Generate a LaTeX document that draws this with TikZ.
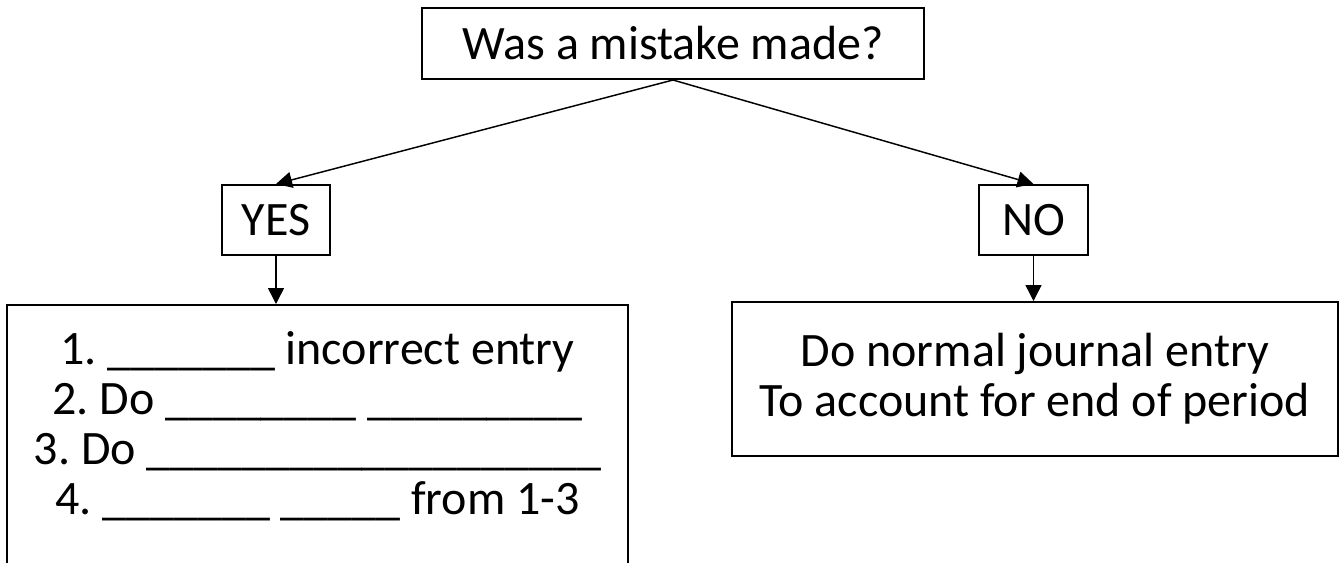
\documentclass[tikz,border=0pt]{standalone}
\usepackage{fontspec}
\setmainfont{Carlito}
\usetikzlibrary{positioning, arrows.meta}

\begin{document}
\begin{tikzpicture}[
                x=0.75pt, y=-0.75pt,
                font=\fontsize{36}{37.5}\selectfont\frenchspacing,
                box/.style={draw, line width=1.5pt, inner sep=0pt, align=center},
                arrow/.style={draw, line width=1.1pt, -{Triangle[length=12pt, width=12pt]}}
              ]

              \useasboundingbox (0,0) rectangle (1342,562);

              \node (Q) [box, minimum width=502*0.75pt, minimum height=71*0.75pt] at (673,43.5) {Was a mistake made?};
              \node (Y) [box, minimum width=108*0.75pt, minimum height=70*0.75pt] at (276,220) {YES};
              \node (N) [box, minimum width=109*0.75pt, minimum height=70*0.75pt] at (1033.5,220) {NO};
              \node (YS) [box, anchor=north, minimum width=621*0.75pt, inner ysep=20pt, text depth=250pt] at (317.5,304)
                {1. \_\_\_\_\_\_\_ incorrect entry\\
                 2. Do \_\_\_\_\_\_\_\_ \_\_\_\_\_\_\_\_\_\\
                 3. Do \_\_\_\_\_\_\_\_\_\_\_\_\_\_\_\_\_\_\_\\
                 4. \_\_\_\_\_\_\_ \_\_\_\_\_ from 1-3};
              \node (NS) [box, anchor=north, minimum width=606*0.75pt, minimum height=154*0.75pt] at (1035,301)
                {Do normal journal entry\\ To account for end of period};

              % Draw arrows
              \draw[arrow] (Q.south) -- (Y.north);
              \draw[arrow] (Q.south) -- (N.north);
              \draw[arrow] (Y.south) -- (Y.south |- YS.north);
              \draw[arrow] (N.south) -- (N.south |- NS.north);

            \end{tikzpicture}
\end{document}
